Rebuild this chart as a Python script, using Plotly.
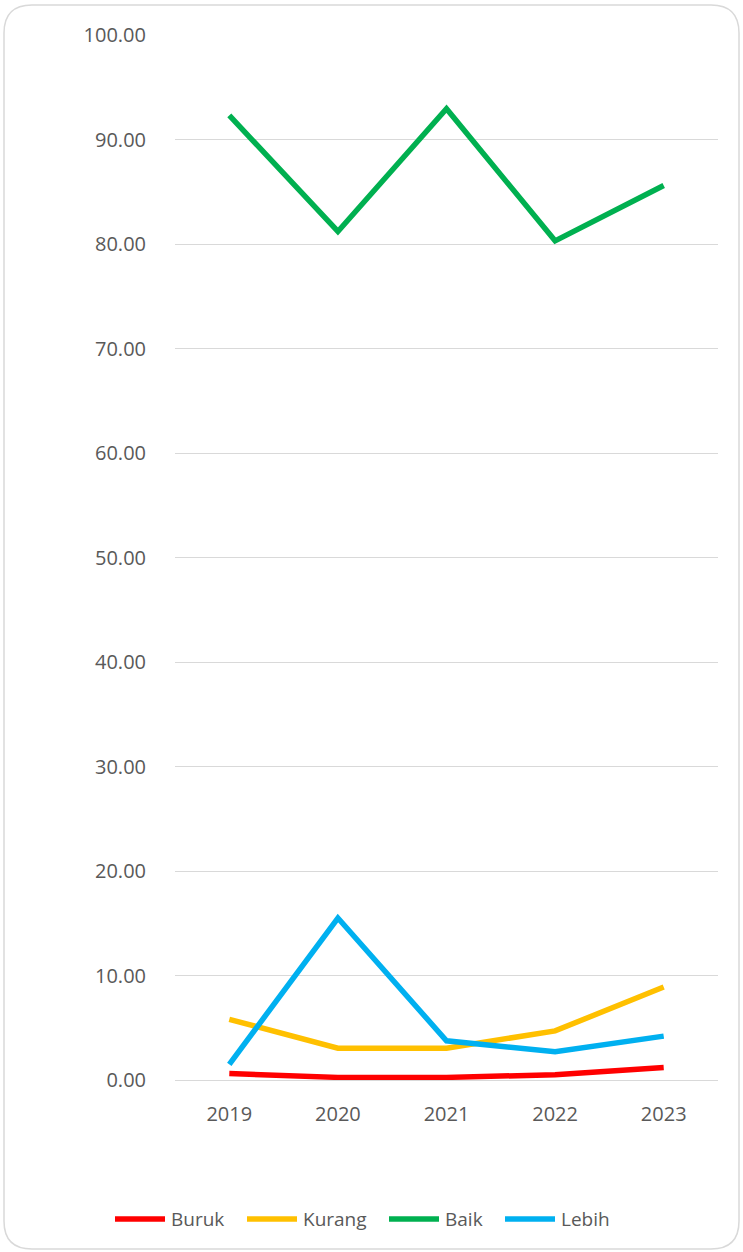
import plotly.graph_objects as go

years = ["2019", "2020", "2021", "2022", "2023"]
buruk = [0.62, 0.25, 0.25, 0.5, 1.2]
kurang = [5.8, 3.05, 3.05, 4.7, 8.9]
baik = [92.3, 81.2, 92.95, 80.3, 85.6]
lebih = [1.5, 15.5, 3.75, 2.7, 4.2]
series_names = ["Buruk", "Kurang", "Baik", "Lebih"]
colors = ["#FF0000", "#FFC000", "#00B050", "#00B0F0"]
y_ticks = [0, 10, 20, 30, 40, 50, 60, 70, 80, 90, 100]
y_tick_labels = ["0.00", "10.00", "20.00", "30.00", "40.00", "50.00",
                 "60.00", "70.00", "80.00", "90.00", "100.00"]

W, H = 743, 1252
L, R, T, B = 175, 25, 35, 172
pw, ph = W - L - R, H - T - B

fig = go.Figure()
for name, vals, c in zip(series_names, [buruk, kurang, baik, lebih], colors):
    fig.add_trace(go.Scatter(x=years, y=vals, name=name, mode="lines",
                             line=dict(color=c, width=5.5), showlegend=False))

def px2paper(x, y):
    return ((x - L) / pw, (H - B - y) / ph)

# rounded border
x0, y0, x1, y1, r = 4, 5, 739, 1249, 28
def pt(x, y):
    a, b = px2paper(x, y)
    return f"{a:.5f},{b:.5f}"
path = (f"M {pt(x0 + r, y0)} L {pt(x1 - r, y0)} Q {pt(x1, y0)} {pt(x1, y0 + r)} "
        f"L {pt(x1, y1 - r)} Q {pt(x1, y1)} {pt(x1 - r, y1)} "
        f"L {pt(x0 + r, y1)} Q {pt(x0, y1)} {pt(x0, y1 - r)} "
        f"L {pt(x0, y0 + r)} Q {pt(x0, y0)} {pt(x0 + r, y0)} Z")
fig.add_shape(type="path", path=path, xref="paper", yref="paper",
              line=dict(color="#D9D9D9", width=1.5), layer="below")

# manual legend (long line symbols like the reference)
legend_starts = [115, 247, 389, 505]
legend_y = 1219
for name, c, sx in zip(series_names, colors, legend_starts):
    ax0, ay = px2paper(sx, legend_y)
    ax1, _ = px2paper(sx + 50, legend_y)
    fig.add_shape(type="line", x0=ax0, x1=ax1, y0=ay, y1=ay, xref="paper", yref="paper",
                  line=dict(color=c, width=5.5))
    tx, _ = px2paper(sx + 54, legend_y)
    fig.add_annotation(x=tx, y=ay, xref="paper", yref="paper", text=name,
                       showarrow=False, xanchor="left", yanchor="middle",
                       font=dict(size=19, color="#595959"))

fig.update_layout(
    width=W, height=H,
    margin=dict(l=L, r=R, t=T, b=B),
    paper_bgcolor="white", plot_bgcolor="white",
    font=dict(family="Open Sans", size=20, color="#595959"),
    showlegend=False,
    xaxis=dict(type="category", range=[-0.5, 4.5], showgrid=False, showline=False,
               zeroline=False, ticks="", ticklabelstandoff=20,
               tickfont=dict(size=20, color="#595959")),
    yaxis=dict(range=[0, 100], tickvals=y_ticks, ticktext=y_tick_labels,
               showgrid=True, gridcolor="#D9D9D9", gridwidth=1,
               zeroline=True, zerolinecolor="#D9D9D9", zerolinewidth=1,
               showline=False, ticks="", ticklabelstandoff=28,
               tickfont=dict(size=20, color="#595959")),
)

fig.write_html("out.html", config={"displayModeBar": False},
               post_script="document.body.style.margin='0';document.body.style.overflow='hidden';")
